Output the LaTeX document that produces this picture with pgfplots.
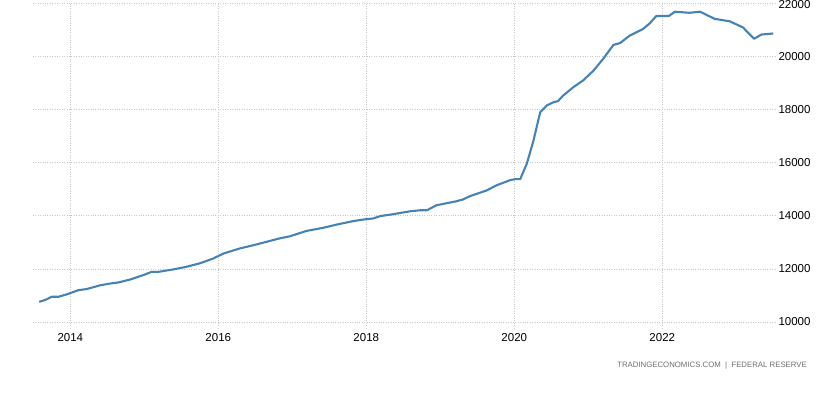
\documentclass[border=0pt]{standalone}
\usepackage{fontspec}
\setmainfont{Liberation Sans}
\usepackage{pgfplots}
\pgfplotsset{compat=1.18}
\definecolor{lineblue}{RGB}{70,130,180}
\definecolor{gridgray}{RGB}{200,200,200}
\definecolor{srcgray}{RGB}{110,110,110}
\begin{document}
\begin{tikzpicture}[x=1pt,y=1pt]
\useasboundingbox (0,0) rectangle (839,395);
\begin{axis}[
  at={(33pt,67pt)}, anchor=south west,
  scale only axis, width=743pt, height=324.5pt,
  xmin=2013.496, xmax=2023.537,
  ymin=9774, ymax=22000,
  axis line style={draw=none},
  xtick={2014,2016,2018,2020,2022},
  ytick={10000,12000,14000,16000,18000,20000},
  xticklabels={2014,2016,2018,2020,2022},
  yticklabels={10000,12000,14000,16000,18000,20000},
  extra y ticks={22000},
  extra y tick labels={22000},
  extra y tick style={yticklabel style={yshift=-1.5pt}},
  yticklabel pos=right,
  tick style={draw=none},
  major grid style={gridgray, dotted, line width=0.8pt},
  grid=major,
  tick label style={font=\fontsize{11.5}{11.5}\selectfont, text=black},
  yticklabel style={anchor=west, xshift=-1pt},
  xticklabel style={yshift=-2pt},
  clip=false,
]
\addplot[lineblue, line width=2.1pt, line join=round] coordinates {
(2013.58,10760) (2013.66,10830) (2013.75,10950) (2013.84,10950) (2013.95,11040)
(2014.11,11200) (2014.22,11240) (2014.40,11380) (2014.54,11450) (2014.65,11490)
(2014.81,11600) (2014.99,11770) (2015.10,11890) (2015.19,11890) (2015.39,11980)
(2015.57,12080) (2015.75,12210) (2015.93,12390) (2016.07,12580) (2016.29,12770)
(2016.47,12890) (2016.65,13020) (2016.83,13150) (2016.97,13230) (2017.19,13430)
(2017.42,13550) (2017.60,13670) (2017.82,13800) (2017.96,13860) (2018.09,13900)
(2018.19,13990) (2018.36,14060) (2018.59,14170) (2018.73,14210) (2018.82,14210)
(2018.95,14400) (2019.22,14550) (2019.31,14620) (2019.40,14740) (2019.63,14960)
(2019.76,15150) (2019.94,15340) (2020.01,15380) (2020.08,15380) (2020.17,15970)
(2020.26,16840) (2020.35,17900) (2020.44,18160) (2020.53,18280) (2020.59,18320)
(2020.66,18530) (2020.80,18850) (2020.93,19100) (2021.07,19470) (2021.20,19910)
(2021.34,20440) (2021.43,20510) (2021.56,20790) (2021.74,21040) (2021.83,21250)
(2021.92,21530) (2022.09,21530) (2022.17,21690) (2022.37,21650) (2022.51,21690)
(2022.71,21420) (2022.91,21330) (2023.09,21100) (2023.24,20670) (2023.34,20830)
(2023.50,20870)
};
\end{axis}
\node[anchor=east, font=\fontsize{7.8}{7.8}\selectfont, text=srcgray, inner sep=0pt] at (807,29) {TRADINGECONOMICS.COM\ \ |\ \ FEDERAL\ RESERVE};
\end{tikzpicture}
\end{document}
